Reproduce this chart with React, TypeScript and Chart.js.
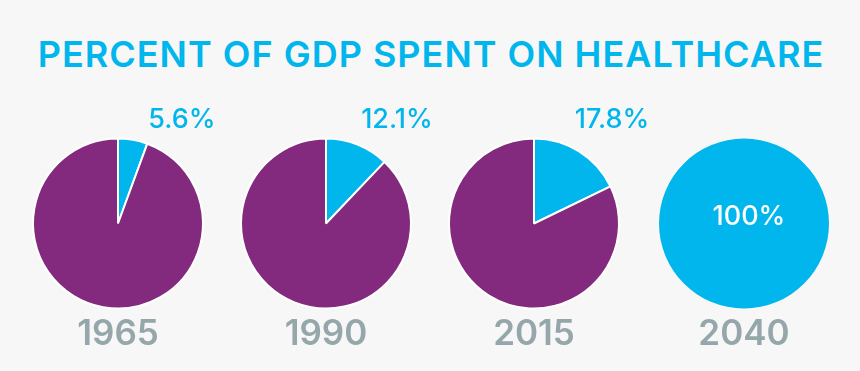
import React, { useEffect, useRef } from 'react';
import { Chart, registerables } from 'chart.js';

Chart.register(...registerables);

// ---- data ----
const TITLE = 'PERCENT OF GDP SPENT ON HEALTHCARE';
const years = ['1965', '1990', '2015', '2040'];
const healthcareShare = [5.6, 12.1, 17.8, 100];
const otherShare = [94.4, 87.9, 82.2, 0];
const shareLabels = ['5.6%', '12.1%', '17.8%', '100%'];

// ---- style / layout ----
const CYAN = '#00B6EC';
const PURPLE = '#832A7F';
const GREY = '#95A7AB';
const BG = '#F7F7F7';
const FONT = 'Inter, Lato, "Open Sans", sans-serif';
const CENTERS_X = [118, 326, 534, 743.5];
const CENTER_Y = 223.5;
const RADIUS = 85;
const CANVAS_W = 300;
const CANVAS_H = 295;
const LABEL_DX = [64, 71, 78, 5];

const labelPlugin = {
  id: 'pieLabels',
  afterDraw(chart: any) {
    const idx = chart.options.plugins.pieLabels.index as number;
    const arc = chart.getDatasetMeta(0).data[0];
    if (!arc) return;
    const { x, y } = arc;
    const ctx = chart.ctx;
    ctx.save();
    ctx.textAlign = 'center';
    ctx.textBaseline = 'alphabetic';
    const full = healthcareShare[idx] >= 100;
    ctx.font = `500 27px ${FONT}`;
    if (full) {
      ctx.fillStyle = '#FFFFFF';
      ctx.fillText(shareLabels[idx], x + LABEL_DX[idx], y + 1.5);
    } else {
      ctx.fillStyle = CYAN;
      ctx.fillText(shareLabels[idx], x + LABEL_DX[idx], y - 96);
    }
    ctx.font = `600 35px ${FONT}`;
    ctx.fillStyle = GREY;
    ctx.fillText(years[idx], x, y + 121);
    ctx.restore();
  },
};

function PieYear({ index }: { index: number }) {
  const ref = useRef<HTMLCanvasElement | null>(null);
  useEffect(() => {
    if (!ref.current) return;
    const vals: number[] = [];
    const cols: string[] = [];
    const labs: string[] = [];
    if (healthcareShare[index] > 0) {
      vals.push(healthcareShare[index]);
      cols.push(CYAN);
      labs.push('Healthcare');
    }
    if (otherShare[index] > 0) {
      vals.push(otherShare[index]);
      cols.push(PURPLE);
      labs.push('Other');
    }
    const chart = new Chart(ref.current, {
      type: 'pie',
      data: {
        labels: labs,
        datasets: [
          {
            data: vals,
            backgroundColor: cols,
            borderColor: '#FFFFFF',
            borderWidth: vals.length > 1 ? 2 : 0,
            hoverOffset: 0,
          },
        ],
      },
      options: {
        animation: false,
        responsive: false,
        events: [],
        radius: RADIUS,
        layout: { padding: 0 },
        plugins: {
          legend: { display: false },
          tooltip: { enabled: false },
          title: { display: false },
          pieLabels: { index },
        } as any,
      },
      plugins: [labelPlugin],
    });
    return () => chart.destroy();
  }, [index]);
  return (
    <canvas
      ref={ref}
      width={CANVAS_W}
      height={CANVAS_H}
      style={{
        position: 'absolute',
        left: CENTERS_X[index] - CANVAS_W / 2,
        top: CENTER_Y - CANVAS_H / 2,
        width: CANVAS_W,
        height: CANVAS_H,
      }}
    />
  );
}

export default function App() {
  useEffect(() => {
    document.body.style.margin = '0';
    document.body.style.background = BG;
  }, []);
  return (
    <div
      style={{
        position: 'relative',
        width: 860,
        height: 371,
        background: BG,
        overflow: 'hidden',
      }}
    >
      <div
        style={{
          position: 'absolute',
          left: 0,
          top: 36,
          width: 860,
          paddingLeft: 1,
          textAlign: 'center',
          font: `600 36px ${FONT}`,
          lineHeight: '36px',
          letterSpacing: '1px',
          color: CYAN,
          whiteSpace: 'nowrap',
        }}
      >
        {TITLE}
      </div>
      {years.map((_, i) => (
        <PieYear key={i} index={i} />
      ))}
    </div>
  );
}
